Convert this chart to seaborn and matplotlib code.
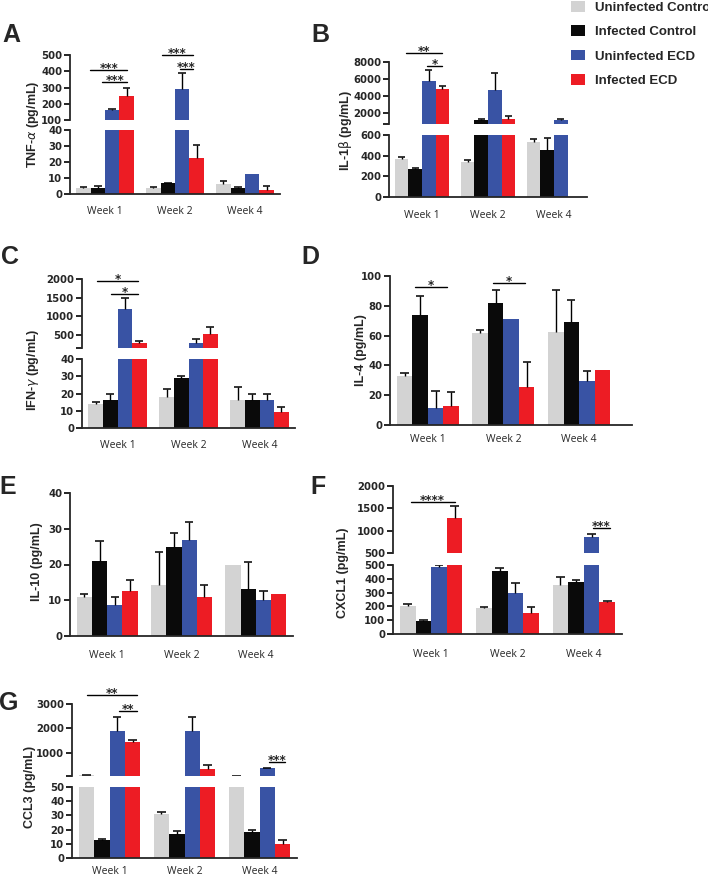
import numpy as np
import pandas as pd
import matplotlib
matplotlib.use("Agg")
import matplotlib.pyplot as plt
import seaborn as sns
from matplotlib.patches import Patch

nan = np.nan
weeks = ["Week 1", "Week 2", "Week 4"]
groups = ["Uninfected Control", "Infected Control", "Uninfected ECD", "Infected ECD"]
colors = ["#d3d3d3", "#0a0a0a", "#3953a4", "#ed1c24"]

# rows = groups (in order above), columns = Week 1, Week 2, Week 4 ; err = upper SD (nan = none)
tnf_mean = [[3.8, 3.9, 6.4], [3.5, 6.6, 3.5], [161, 289, 12.6], [248, 22.4, 2.7]]
tnf_err = [[0.5, 0.5, 1.5], [1.7, 0.4, 0.9], [9, 98, nan], [51, 8.3, 2.1]]

il1b_mean = [[363, 334, 535], [269, 1131, 454], [5750, 4684, 1130], [4763, 1328, nan]]
il1b_err = [[26, 26, 23], [10, 119, 113], [1300, 1976, 120], [400, 277, nan]]

ifng_mean = [[14.2, 18.1, 16.1], [16.1, 28.9, 16.5], [1196, 277, 16.1], [277, 527, 9.3]]
ifng_err = [[0.6, 4.4, 7.4], [3.5, 1.4, 3.1], [286, 116, 3.9], [71, 196, 2.9]]

il4_mean = [[32.8, 61.6, 62.5], [74.1, 82.1, 69.4], [11.6, 71.2, 29.7], [12.9, 25.4, 36.8]]
il4_err = [[2.2, 2.0, 27.9], [12.3, 8.3, 14.3], [11.2, nan, 6.5], [9.0, 17.0, nan]]

il10_mean = [[10.8, 14.2, 19.8], [21.1, 24.8, 13.1], [8.8, 26.8, 10.2], [12.6, 10.9, 11.7]]
il10_err = [[0.9, 9.2, nan], [5.5, 4.1, 7.6], [2.2, 5.0, 2.3], [3.2, 3.5, nan]]

cxcl1_mean = [[206, 192, 352], [95, 459, 376], [485, 296, 869], [1288, 155, 231]]
cxcl1_err = [[10, 5, 61], [7, 19, 17], [12, 73, 51], [270, 44, 9]]

ccl3_mean = [[90, 31.2, 65], [12.9, 17.1, 18.1], [1875, 1875, 361], [1458, 320, 10.1]]
ccl3_err = [[10, 1.2, 5], [0.7, 1.7, 1.9], [597, 597, 29], [84, 166, 2.3]]

sns.set_style("ticks")
plt.rcParams["font.family"] = ["Liberation Sans", "DejaVu Sans"]
plt.rcParams["axes.linewidth"] = 1.3

W, H = 708, 876
fig = plt.figure(figsize=(W / 100, H / 100), dpi=100)
palette = dict(zip(groups, colors))
BW = 0.82


def px_axes(x0, y0, x1, y1):
    return fig.add_axes([x0 / W, 1 - y1 / H, (x1 - x0) / W, (y1 - y0) / H])


def make_df(mean):
    rows = []
    for g, vals in zip(groups, mean):
        for w, v in zip(weeks, vals):
            if np.isfinite(v):
                rows.append({"week": w, "group": g, "value": v})
    return pd.DataFrame(rows)


def draw_bars(ax, mean, err, ylim):
    lo, hi_lim = ylim
    df = make_df(mean)
    sns.barplot(data=df, x="week", y="value", hue="group", order=weeks,
                hue_order=groups, palette=palette, saturation=1, width=BW,
                errorbar=None, legend=False, linewidth=0, ax=ax)
    step = BW / len(groups)
    cw = step * 0.27
    for p in list(ax.patches):
        xc = p.get_x() + p.get_width() / 2
        ci = int(round(xc))
        hi = int(round((xc - ci) / step + (len(groups) - 1) / 2))
        e = err[hi][ci]
        h = p.get_height()
        if not np.isfinite(e):
            continue
        top = h + e
        if top <= lo or h >= hi_lim:
            continue
        ax.plot([xc, xc], [max(h, lo), min(top, hi_lim)], color="black",
                lw=1.0, solid_capstyle="butt", zorder=3)
        if top <= hi_lim:
            ax.plot([xc - cw, xc + cw], [top, top], color="black",
                    lw=1.1, solid_capstyle="butt", zorder=3)
    ax.set_xlabel("")
    ax.set_ylabel("")


panels = [
    dict(letter="A", lpos=(11, 35), mean=tnf_mean, err=tnf_err,
         ylabel=r"TNF-$\alpha$ (pg/mL)", ylpos=(33, 124), x=(70, 280), xlim=(-0.5, 2.5),
         wpad=9,
         segs=[(55, 120, (100, 500), [100, 200, 300, 400, 500], True),
               (130, 194, (0, 40), [0, 10, 20, 30, 40], True)],
         sig=[(0, -0.21, 0.32, 408, "***"), (0, -0.036, 0.32, 334, "***"),
              (1, -0.186, 0.257, 500, "***"), (1, 0.071, 0.257, 414, "***")]),
    dict(letter="B", lpos=(320, 35), mean=il1b_mean, err=il1b_err,
         ylabel=r"IL-1$\mathrm{\beta}$ (pg/mL)", ylpos=(345, 131), x=(389, 587), xlim=(-0.5, 2.5),
         wpad=9,
         segs=[(62, 124, (700, 8000), [700, 2000, 4000, 6000, 8000], False),
               (135, 197, (0, 600), [0, 200, 400, 600], True)],
         sig=[(0, -0.25, 0.31, 9057, "**"), (0, 0.075, 0.31, 7526, "*")]),
    dict(letter="C", lpos=(10, 257), mean=ifng_mean, err=ifng_err,
         ylabel=r"IFN-$\gamma$ (pg/mL)", ylpos=(33, 370), x=(82, 295), xlim=(-0.5, 2.5),
         wpad=9,
         segs=[(279, 348, (150, 2000), [150, 500, 1000, 1500, 2000], False),
               (359, 428, (0, 40), [0, 10, 20, 30, 40], True)],
         sig=[(0, -0.295, 0.295, 1946, "*"), (0, -0.09, 0.295, 1598, "*")]),
    dict(letter="D", lpos=(310, 257), mean=il4_mean, err=il4_err,
         ylabel="IL-4 (pg/mL)", ylpos=(361, 350), x=(390, 632), xlim=(-0.5, 2.7),
         wpad=6.5,
         segs=[(276, 425, (0, 100), [0, 20, 40, 60, 80, 100], True)],
         sig=[(0, -0.166, 0.258, 92.6, "*"), (1, -0.139, 0.285, 95.3, "*")]),
    dict(letter="E", lpos=(8, 487), mean=il10_mean, err=il10_err,
         ylabel="IL-10 (pg/mL)", ylpos=(37, 562), x=(70, 293), xlim=(-0.5, 2.5),
         wpad=10,
         segs=[(493, 636, (0, 40), [0, 10, 20, 30, 40], True)],
         sig=[]),
    dict(letter="F", lpos=(318, 487), mean=cxcl1_mean, err=cxcl1_err,
         ylabel="CXCL1 (pg/mL)", ylpos=(343, 573), x=(393, 622), xlim=(-0.5, 2.5),
         wpad=10.5,
         segs=[(486, 553, (500, 2000), [500, 1000, 1500, 2000], True),
               (565, 634, (0, 500), [0, 100, 200, 300, 400, 500], True)],
         sig=[(0, -0.27, 0.31, 1642, "****"), (2, 0.12, 0.34, 1060, "***")]),
    dict(letter="G", lpos=(9, 703), mean=ccl3_mean, err=ccl3_err,
         ylabel="CCL3 (pg/mL)", ylpos=(30, 787), x=(72, 297), xlim=(-0.5, 2.5),
         wpad=5.5,
         segs=[(704, 776, (50, 3000), [50, 1000, 2000, 3000], False),
               (787, 858, (0, 50), [0, 10, 20, 30, 40, 50], True)],
         sig=[(0, -0.30, 0.36, 3369, "**"), (0, 0.13, 0.36, 2714, "**"),
              (2, 0.12, 0.34, 624, "***")]),
]

for pan in panels:
    axes = []
    nseg = len(pan["segs"])
    for k, (y0, y1, ylim, ticks, lowlab) in enumerate(pan["segs"]):
        ax = px_axes(pan["x"][0], y0, pan["x"][1], y1)
        draw_bars(ax, pan["mean"], pan["err"], ylim)
        ax.set_xlim(*pan["xlim"])
        ax.set_ylim(*ylim)
        sns.despine(ax=ax)
        labels = [str(t) for t in ticks]
        if not lowlab:
            labels[0] = ""
        ax.set_yticks(ticks)
        ax.set_yticklabels(labels, fontweight="bold", fontsize=7.3,
                           family=["DejaVu Sans"])
        ax.tick_params(axis="y", length=4, width=1.2, pad=1.5, color="black")
        last = (k == nseg - 1)
        if last:
            ax.set_xticks(range(len(weeks)))
            ax.set_xticklabels(weeks, fontsize=7.5, family=["Open Sans"])
            ax.tick_params(axis="x", length=0, pad=pan["wpad"])
        else:
            ax.spines["bottom"].set_visible(False)
            ax.set_xticks([])
        axes.append(ax)
    sax = axes[0]
    for g, a, b, yv, txt in pan["sig"]:
        sax.plot([g + a, g + b], [yv, yv], color="black", lw=1.0, clip_on=False)
        sax.annotate(txt, xy=(g + (a + b) / 2, yv), xytext=(0, -1.2),
                     textcoords="offset points", ha="center", va="baseline",
                     fontsize=8.5, fontweight="bold", family=["DejaVu Sans"],
                     annotation_clip=False)
    fig.text(pan["ylpos"][0] / W, 1 - pan["ylpos"][1] / H, pan["ylabel"],
             rotation=90, ha="center", va="center", fontsize=9,
             fontweight="bold")
    fig.text(pan["lpos"][0] / W, 1 - pan["lpos"][1] / H, pan["letter"],
             ha="center", va="center", fontsize=18, fontweight="bold")

handles = [Patch(facecolor=c, edgecolor="none", label=g) for g, c in zip(groups, colors)]
fig.legend(handles=handles, loc="upper left", bbox_to_anchor=(571 / W, 1 - 1 / H),
           frameon=False, borderpad=0, borderaxespad=0, handlelength=1.05,
           handleheight=0.85, handletextpad=0.76, labelspacing=0.88,
           prop={"weight": "bold", "size": 9.5})

fig.savefig("out.png", dpi=100)
